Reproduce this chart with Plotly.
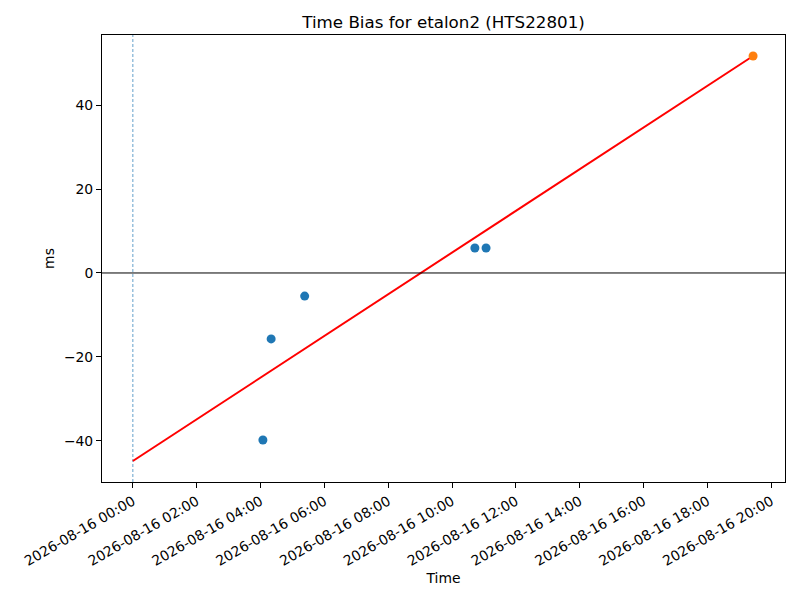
import plotly.graph_objects as go

obs_times = ['2026-08-16 04:04:30', '2026-08-16 04:20:00', '2026-08-16 05:23:00',
             '2026-08-16 10:43:00', '2026-08-16 11:04:00']
obs_bias = [-39.8, -15.7, -5.5, 5.95, 5.95]

last_time = ['2026-08-16 19:26:00']
last_bias = [51.7]

fit_times = ['2026-08-16 00:00:00', '2026-08-16 19:26:00']
fit_bias = [-44.8, 51.7]

ref_time = '2026-08-16 00:00:00'

font = dict(family='DejaVu Sans', size=13.9, color='black')

fig = go.Figure()

# dashed reference line at start
fig.add_trace(go.Scatter(
    x=[ref_time, ref_time], y=[-49.8, 56.7], mode='lines',
    line=dict(color='#1f77b4', width=0.7, dash='3px,2px'),
    showlegend=False, hoverinfo='skip'
))

fig.add_trace(go.Scatter(
    x=obs_times, y=obs_bias, mode='markers',
    marker=dict(color='#1f77b4', size=9),
    showlegend=False
))

fig.add_trace(go.Scatter(
    x=fit_times, y=fit_bias, mode='lines',
    line=dict(color='red', width=2),
    showlegend=False
))

fig.add_trace(go.Scatter(
    x=last_time, y=last_bias, mode='markers',
    marker=dict(color='#ff7f0e', size=9),
    showlegend=False
))

# zero line
fig.add_hline(y=0, line=dict(color='black', width=1))

# page has an 8px body margin, so the figure is 8px smaller and shifted
fig.update_layout(
    width=792, height=592,
    margin=dict(l=94, r=15, t=27, b=118),
    plot_bgcolor='white', paper_bgcolor='white',
    font=font,
    title=dict(text='Time Bias for etalon2 (HTS22801)', x=0.5, xref='paper',
               y=1 - 14 / 592, yref='container', yanchor='middle',
               font=dict(family='DejaVu Sans', size=16.7, color='black')),
)

fig.update_xaxes(
    type='date',
    range=['2026-08-15 23:02:00', '2026-08-16 20:26:00'],
    tick0='2026-08-16 00:00:00', dtick=7200000,
    tickformat='%Y-%m-%d %H:%M', tickangle=-30,
    ticks='outside', ticklen=5, tickcolor='black', tickwidth=1,
    showline=True, linecolor='black', linewidth=1, mirror=True,
    showgrid=False, zeroline=False,
    title=dict(text='Time', font=font, standoff=5),
    automargin=False,
)
fig.update_yaxes(
    range=[-49.8, 56.7],
    tickvals=[-40, -20, 0, 20, 40],
    ticktext=['\u221240', '\u221220', '0', '20', '40'],
    ticks='outside', ticklen=5, tickcolor='black', tickwidth=1,
    showline=True, linecolor='black', linewidth=1, mirror=True,
    showgrid=False, zeroline=False,
    title=dict(text='ms', font=font, standoff=6),
    automargin=False,
)

fig.write_html("out.html")
